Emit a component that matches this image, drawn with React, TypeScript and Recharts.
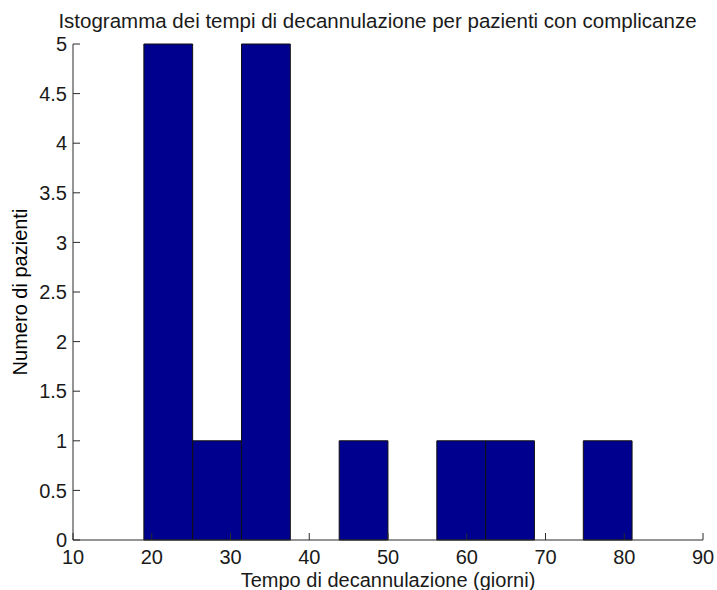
import React from 'react';
import { BarChart, Bar, XAxis, YAxis, Label } from 'recharts';

// histogram bins (days) and patient counts
const binCenters = [22.1, 28.3, 34.5, 40.7, 46.9, 53.1, 59.3, 65.5, 71.7, 77.9];
const counts = [5, 1, 5, 0, 1, 0, 1, 1, 0, 1];
const binWidth = 6.2;

const xTicks = [10, 20, 30, 40, 50, 60, 70, 80, 90];
const yTicks = [0, 0.5, 1, 1.5, 2, 2.5, 3, 3.5, 4, 4.5, 5];

const title = 'Istogramma dei tempi di decannulazione per pazienti con complicanze';
const xLabel = 'Tempo di decannulazione (giorni)';
const yLabel = 'Numero di pazienti';

const data = binCenters.map((c, i) => ({ center: c, count: counts[i] }));

const W = 717;
const H = 590;
const margin = { top: 44, right: 14, bottom: 0, left: 0 };
const yAxisW = 73;
const xAxisH = 50;
const plotW = W - margin.left - margin.right - yAxisW;
// bars touch each other like a histogram; tiny trim so recharts doesn't shrink them
const barPx = (binWidth * plotW) / (xTicks[xTicks.length - 1] - xTicks[0]) - 0.05;

const font = '"Liberation Sans", Arial, sans-serif';
const axisColor = '#2b2b2b';
const textColor = '#1a1a1a';
const tickStyle = { fill: textColor, fontSize: 20, fontFamily: font };
const labelStyle = { fill: textColor, fontSize: 20, fontFamily: font };

export default function App() {
  return (
    <div style={{ position: 'absolute', left: 0, top: 0, width: W, height: H, background: '#fff' }}>
      <div
        style={{
          position: 'absolute',
          top: 9,
          left: 0,
          width: 755,
          textAlign: 'center',
          whiteSpace: 'nowrap',
          fontFamily: font,
          fontSize: 20.5,
          color: textColor,
        }}
      >
        {title}
      </div>
      <BarChart width={W} height={H} data={data} margin={margin} barCategoryGap={0}>
        <XAxis
          xAxisId="b"
          dataKey="center"
          type="number"
          domain={[10, 90]}
          ticks={xTicks}
          allowDataOverflow
          height={xAxisH}
          tickSize={-7}
          tickMargin={17}
          stroke={axisColor}
          tick={tickStyle}
        >
          <Label value={xLabel} position="insideBottom" offset={3} style={labelStyle} />
        </XAxis>
        <XAxis
          xAxisId="t"
          orientation="top"
          type="number"
          domain={[10, 90]}
          ticks={xTicks}
          allowDataOverflow
          height={0}
          tickSize={-7}
          tick={false}
          stroke={axisColor}
        />
        <YAxis
          yAxisId="l"
          type="number"
          domain={[0, 5]}
          ticks={yTicks}
          width={yAxisW}
          tickSize={-7}
          tickMargin={13}
          stroke={axisColor}
          tick={tickStyle}
        >
          <Label
            value={yLabel}
            angle={-90}
            position="insideLeft"
            offset={20}
            style={{ ...labelStyle, textAnchor: 'middle', fill: '#000' }}
          />
        </YAxis>
        <YAxis
          yAxisId="r"
          orientation="right"
          type="number"
          domain={[0, 5]}
          ticks={yTicks}
          width={0}
          tickSize={-7}
          tick={false}
          stroke={axisColor}
        />
        <Bar
          xAxisId="b"
          yAxisId="l"
          dataKey="count"
          fill="#00008F"
          stroke="#111"
          strokeWidth={1}
          barSize={barPx}
          isAnimationActive={false}
        />
      </BarChart>
    </div>
  );
}
